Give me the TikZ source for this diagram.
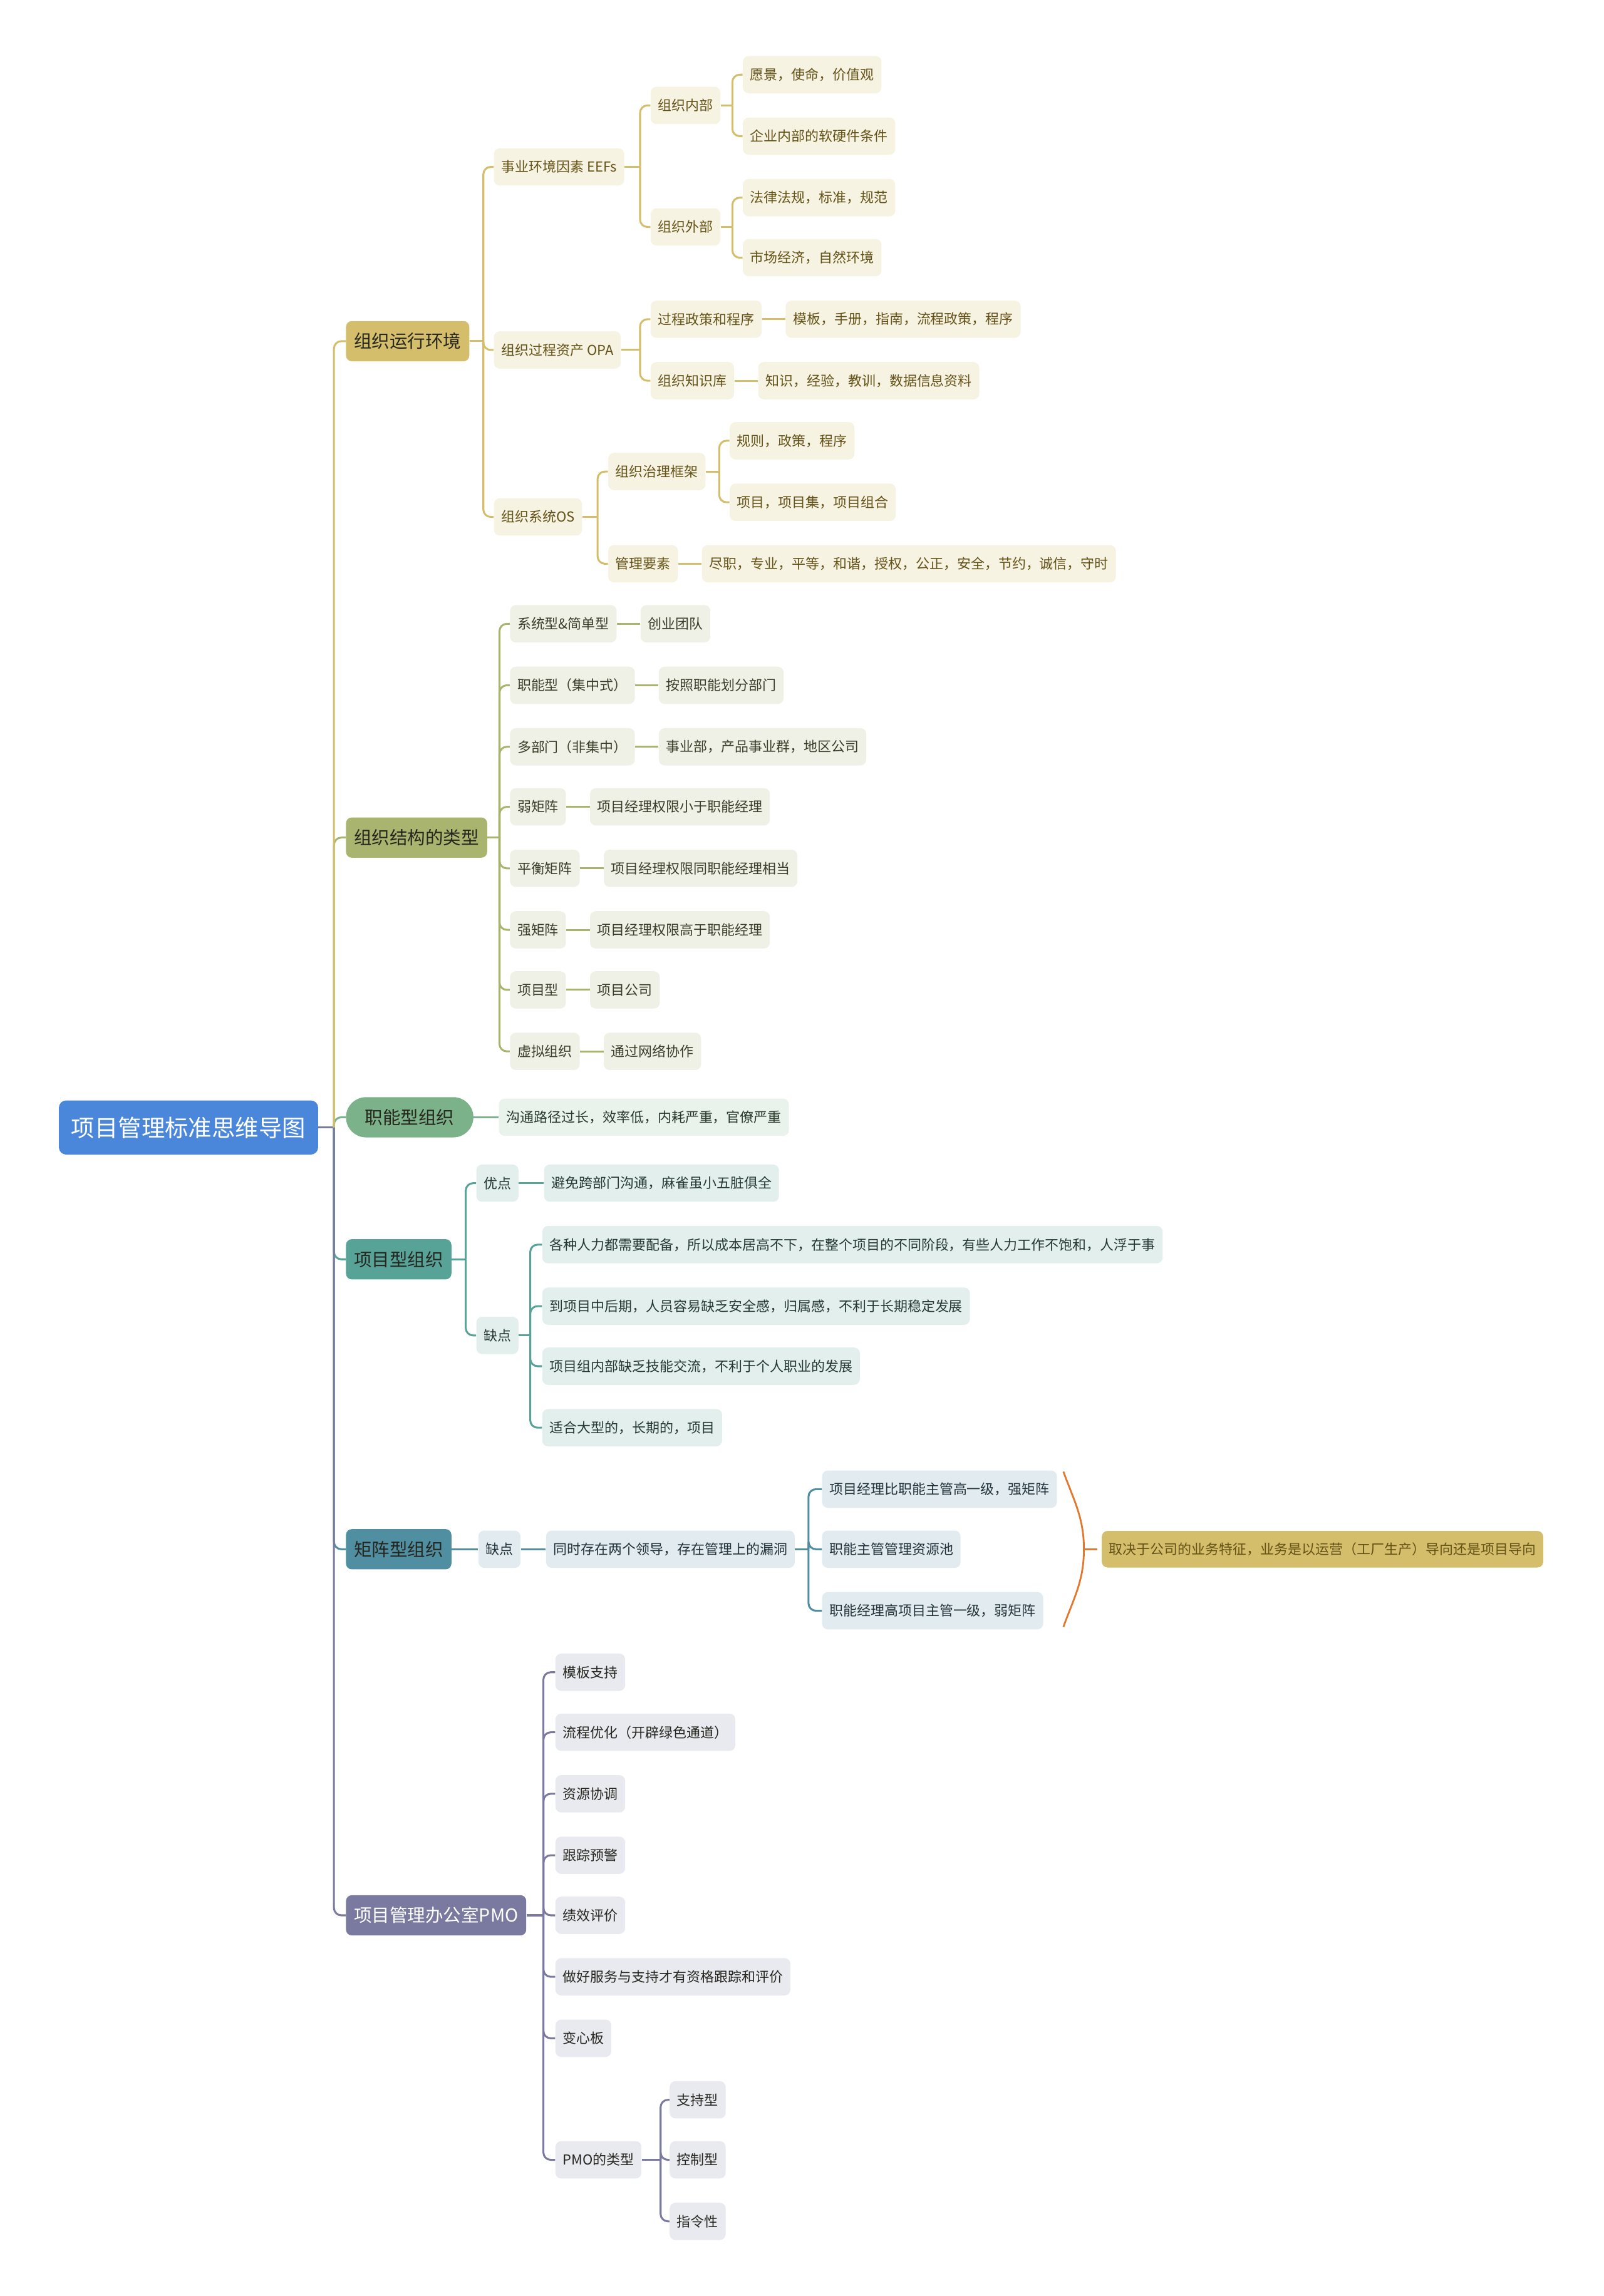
\documentclass[tikz,border=0pt]{standalone}
\usepackage{fontspec}
\setmainfont{Noto Sans CJK SC}
\usetikzlibrary{positioning}
\definecolor{rootblue}{RGB}{74,134,218}
\definecolor{envgold}{RGB}{212,190,108}
\definecolor{envlight}{RGB}{246,243,227}
\definecolor{envtext}{RGB}{100,82,22}
\definecolor{strolive}{RGB}{169,180,111}
\definecolor{strlight}{RGB}{239,241,230}
\definecolor{strtext}{RGB}{58,62,40}
\definecolor{fungreen}{RGB}{124,178,138}
\definecolor{funlight}{RGB}{233,242,235}
\definecolor{funtext}{RGB}{40,58,44}
\definecolor{projteal}{RGB}{88,163,152}
\definecolor{projlight}{RGB}{227,239,237}
\definecolor{projtext}{RGB}{36,56,52}
\definecolor{matblue}{RGB}{79,143,161}
\definecolor{matlight}{RGB}{226,236,240}
\definecolor{mattext}{RGB}{34,50,58}
\definecolor{pmopurple}{RGB}{122,122,160}
\definecolor{pmolight}{RGB}{233,233,240}
\definecolor{sumorange}{RGB}{226,120,45}
\definecolor{darktext}{RGB}{38,38,30}
\tikzset{
  rootbox/.style={fill=rootblue,text=white,rounded corners=5pt,minimum height=37pt,
                  inner xsep=8.5pt,inner ysep=0pt,anchor=west,font=\fontsize{16}{19}\selectfont},
  mainbox/.style={rounded corners=4pt,minimum height=27.5pt,inner xsep=5.5pt,inner ysep=0pt,
                  anchor=west,text=darktext,font=\fontsize{12.2}{14}\selectfont},
  leafbox/.style={rounded corners=4pt,minimum height=25.5pt,inner xsep=5pt,inner ysep=0pt,
                  anchor=west,font=\fontsize{9.4}{11}\selectfont},
  envleaf/.style={leafbox,fill=envlight,text=envtext},
  strleaf/.style={leafbox,fill=strlight,text=strtext},
  funleaf/.style={leafbox,fill=funlight,text=funtext},
  projleaf/.style={leafbox,fill=projlight,text=projtext},
  matleaf/.style={leafbox,fill=matlight,text=mattext},
  pmoleaf/.style={leafbox,fill=pmolight,text=darktext},
  link/.style={line width=1.3pt,rounded corners=5pt},
  envline/.style={link,draw=envgold},
  strline/.style={link,draw=strolive},
  funline/.style={link,draw=fungreen},
  projline/.style={link,draw=projteal},
  matline/.style={link,draw=matblue},
  pmoline/.style={link,draw=pmopurple},
  sumline/.style={line width=1.2pt,draw=sumorange}
}
\begin{document}
\begin{tikzpicture}[x=1pt,y=-1pt]
  \useasboundingbox (0,0) rectangle (1095,1568);

  % Central topic and the six main branches.
  \node[rootbox] (root) at (40,770) {项目管理标准思维导图};
  \node[mainbox,fill=envgold] (env) at (236,233) {组织运行环境};
  \node[mainbox,fill=strolive] (str) at (236,572) {组织结构的类型};
  \node[mainbox,fill=fungreen,rounded corners=13.75pt,inner xsep=13pt] (fun) at (236,763) {职能型组织};
  \node[mainbox,fill=projteal] (proj) at (236,860) {项目型组织};
  \node[mainbox,fill=matblue] (mat) at (236,1058) {矩阵型组织};
  \node[mainbox,fill=pmopurple,text=white] (pmo) at (236,1308) {项目管理办公室PMO};

  \draw[pmoline] (root.east) -- ([xshift=-8pt]pmo.west |- root.east);
  \foreach \b/\s in {fun/funline,str/strline,env/envline,proj/projline,mat/matline,pmo/pmoline}
    \draw[\s] ([xshift=-8pt]\b.west |- root.east) |- (\b.west);

  % Operating environment.
  \node[envleaf] (eef) at (337,114) {事业环境因素 EEFs};
  \node[envleaf] (opa) at (337,239) {组织过程资产 OPA};
  \node[envleaf] (os) at (337,353) {组织系统OS};
  \node[envleaf] (inside) at (444,72) {组织内部};
  \node[envleaf] (outside) at (444,155) {组织外部};
  \node[envleaf] (vision) at (507,51) {愿景，使命，价值观};
  \node[envleaf] (soft) at (507,93) {企业内部的软硬件条件};
  \node[envleaf] (law) at (507,135) {法律法规，标准，规范};
  \node[envleaf] (market) at (507,176) {市场经济，自然环境};
  \node[envleaf] (policy) at (444,218) {过程政策和程序};
  \node[envleaf,right=16pt of policy] (tmpl) {模板，手册，指南，流程政策，程序};
  \node[envleaf] (know) at (444,260) {组织知识库};
  \node[envleaf,right=16pt of know] (lessons) {知识，经验，教训，数据信息资料};
  \node[envleaf] (gov) at (415,322) {组织治理框架};
  \node[envleaf] (rules) at (498,301) {规则，政策，程序};
  \node[envleaf] (portfolio) at (498,343) {项目，项目集，项目组合};
  \node[envleaf] (mgmt) at (415,385) {管理要素};
  \node[envleaf,right=16pt of mgmt] (values) {尽职，专业，平等，和谐，授权，公正，安全，节约，诚信，守时};

  \foreach \p/\c in {env/eef,env/opa,env/os,eef/inside,eef/outside,inside/vision,inside/soft,
                     outside/law,outside/market,opa/policy,opa/know,os/gov,os/mgmt,gov/rules,gov/portfolio} {
    \draw[envline] (\p.east) -- ([xshift=-7pt]\c.west |- \p.east);
    \draw[envline] ([xshift=-7pt]\c.west |- \p.east) |- (\c.west);
  }
  \foreach \a/\b in {policy/tmpl,know/lessons,mgmt/values}
    \draw[envline] (\a.east) -- (\b.west);

  % Structure types.
  \node[strleaf] (st1) at (348,426) {系统型\&简单型};
  \node[strleaf] (st2) at (348,468) {职能型（集中式）};
  \node[strleaf] (st3) at (348,510) {多部门（非集中）};
  \node[strleaf] (st4) at (348,551) {弱矩阵};
  \node[strleaf] (st5) at (348,593) {平衡矩阵};
  \node[strleaf] (st6) at (348,635) {强矩阵};
  \node[strleaf] (st7) at (348,676) {项目型};
  \node[strleaf] (st8) at (348,718) {虚拟组织};
  \node[strleaf,right=16pt of st1] (sd1) {创业团队};
  \node[strleaf,right=16pt of st2] (sd2) {按照职能划分部门};
  \node[strleaf,right=16pt of st3] (sd3) {事业部，产品事业群，地区公司};
  \node[strleaf,right=16pt of st4] (sd4) {项目经理权限小于职能经理};
  \node[strleaf,right=16pt of st5] (sd5) {项目经理权限同职能经理相当};
  \node[strleaf,right=16pt of st6] (sd6) {项目经理权限高于职能经理};
  \node[strleaf,right=16pt of st7] (sd7) {项目公司};
  \node[strleaf,right=16pt of st8] (sd8) {通过网络协作};
  \draw[strline] (str.east) -- ([xshift=-7pt]st1.west |- str.east);
  \foreach \i in {1,...,8} {
    \draw[strline] ([xshift=-7pt]st\i.west |- str.east) |- (st\i.west);
    \draw[strline] (st\i.east) -- (sd\i.west);
  }

  % Functional organisation.
  \node[funleaf,right=17pt of fun] (funnote) {沟通路径过长，效率低，内耗严重，官僚严重};
  \draw[funline] (fun.east) -- (funnote.west);

  % Projectized organisation.
  \node[projleaf] (pros) at (325,808) {优点};
  \node[projleaf,right=17pt of pros] (prosnote) {避免跨部门沟通，麻雀虽小五脏俱全};
  \node[projleaf] (cons) at (325,912) {缺点};
  \node[projleaf] (c1) at (370,850) {各种人力都需要配备，所以成本居高不下，在整个项目的不同阶段，有些人力工作不饱和，人浮于事};
  \node[projleaf] (c2) at (370,892) {到项目中后期，人员容易缺乏安全感，归属感，不利于长期稳定发展};
  \node[projleaf] (c3) at (370,933) {项目组内部缺乏技能交流，不利于个人职业的发展};
  \node[projleaf] (c4) at (370,975) {适合大型的，长期的，项目};
  \draw[projline] (proj.east) -- ([xshift=-7pt]pros.west |- proj.east);
  \foreach \c in {pros,cons}
    \draw[projline] ([xshift=-7pt]\c.west |- proj.east) |- (\c.west);
  \draw[projline] (pros.east) -- (prosnote.west);
  \draw[projline] (cons.east) -- ([xshift=-8pt]c1.west |- cons.east);
  \foreach \c in {c1,c2,c3,c4}
    \draw[projline] ([xshift=-8pt]\c.west |- cons.east) |- (\c.west);

  % Matrix organisation.
  \node[matleaf,right=18pt of mat] (matcons) {缺点};
  \node[matleaf,right=17pt of matcons] (matnote) {同时存在两个领导，存在管理上的漏洞};
  \node[matleaf] (m1) at (561,1017) {项目经理比职能主管高一级，强矩阵};
  \node[matleaf] (m2) at (561,1058) {职能主管管理资源池};
  \node[matleaf] (m3) at (561,1100) {职能经理高项目主管一级，弱矩阵};
  \node[mainbox,fill=envgold,text=envtext,font=\fontsize{9.4}{11}\selectfont,
        minimum height=25pt,inner xsep=5pt] (summary) at (752,1058)
      {取决于公司的业务特征，业务是以运营（工厂生产）导向还是项目导向};
  \draw[matline] (mat.east) -- (matcons.west);
  \draw[matline] (matcons.east) -- (matnote.west);
  \draw[matline] (matnote.east) -- ([xshift=-9pt]m1.west |- matnote.east);
  \foreach \c in {m1,m2,m3}
    \draw[matline] ([xshift=-9pt]\c.west |- matnote.east) |- (\c.west);
  \coordinate (bracetop) at (726,1005);
  \coordinate (bracemid) at (740,1058);
  \coordinate (bracebot) at (726,1111);
  \draw[sumline] (bracetop) to[out=-70,in=90] (bracemid) to[out=-90,in=70] (bracebot);
  \draw[sumline] (bracemid) -- ([xshift=-3pt]summary.west);

  % PMO.
  \node[pmoleaf] (p1) at (379,1142) {模板支持};
  \node[pmoleaf] (p2) at (379,1183) {流程优化（开辟绿色通道）};
  \node[pmoleaf] (p3) at (379,1225) {资源协调};
  \node[pmoleaf] (p4) at (379,1267) {跟踪预警};
  \node[pmoleaf] (p5) at (379,1308) {绩效评价};
  \node[pmoleaf] (p6) at (379,1350) {做好服务与支持才有资格跟踪和评价};
  \node[pmoleaf] (p7) at (379,1392) {变心板};
  \node[pmoleaf] (ptype) at (379,1475) {PMO的类型};
  \node[pmoleaf] (pt1) at (457,1434) {支持型};
  \node[pmoleaf] (pt2) at (457,1475) {控制型};
  \node[pmoleaf] (pt3) at (457,1517) {指令性};
  \draw[pmoline] (pmo.east) -- ([xshift=-8pt]p1.west |- pmo.east);
  \foreach \c in {p1,p2,p3,p4,p5,p6,p7,ptype}
    \draw[pmoline] ([xshift=-8pt]\c.west |- pmo.east) |- (\c.west);
  \draw[pmoline] (ptype.east) -- ([xshift=-6pt]pt1.west |- ptype.east);
  \foreach \c in {pt1,pt2,pt3}
    \draw[pmoline] ([xshift=-6pt]\c.west |- ptype.east) |- (\c.west);
\end{tikzpicture}
\end{document}
